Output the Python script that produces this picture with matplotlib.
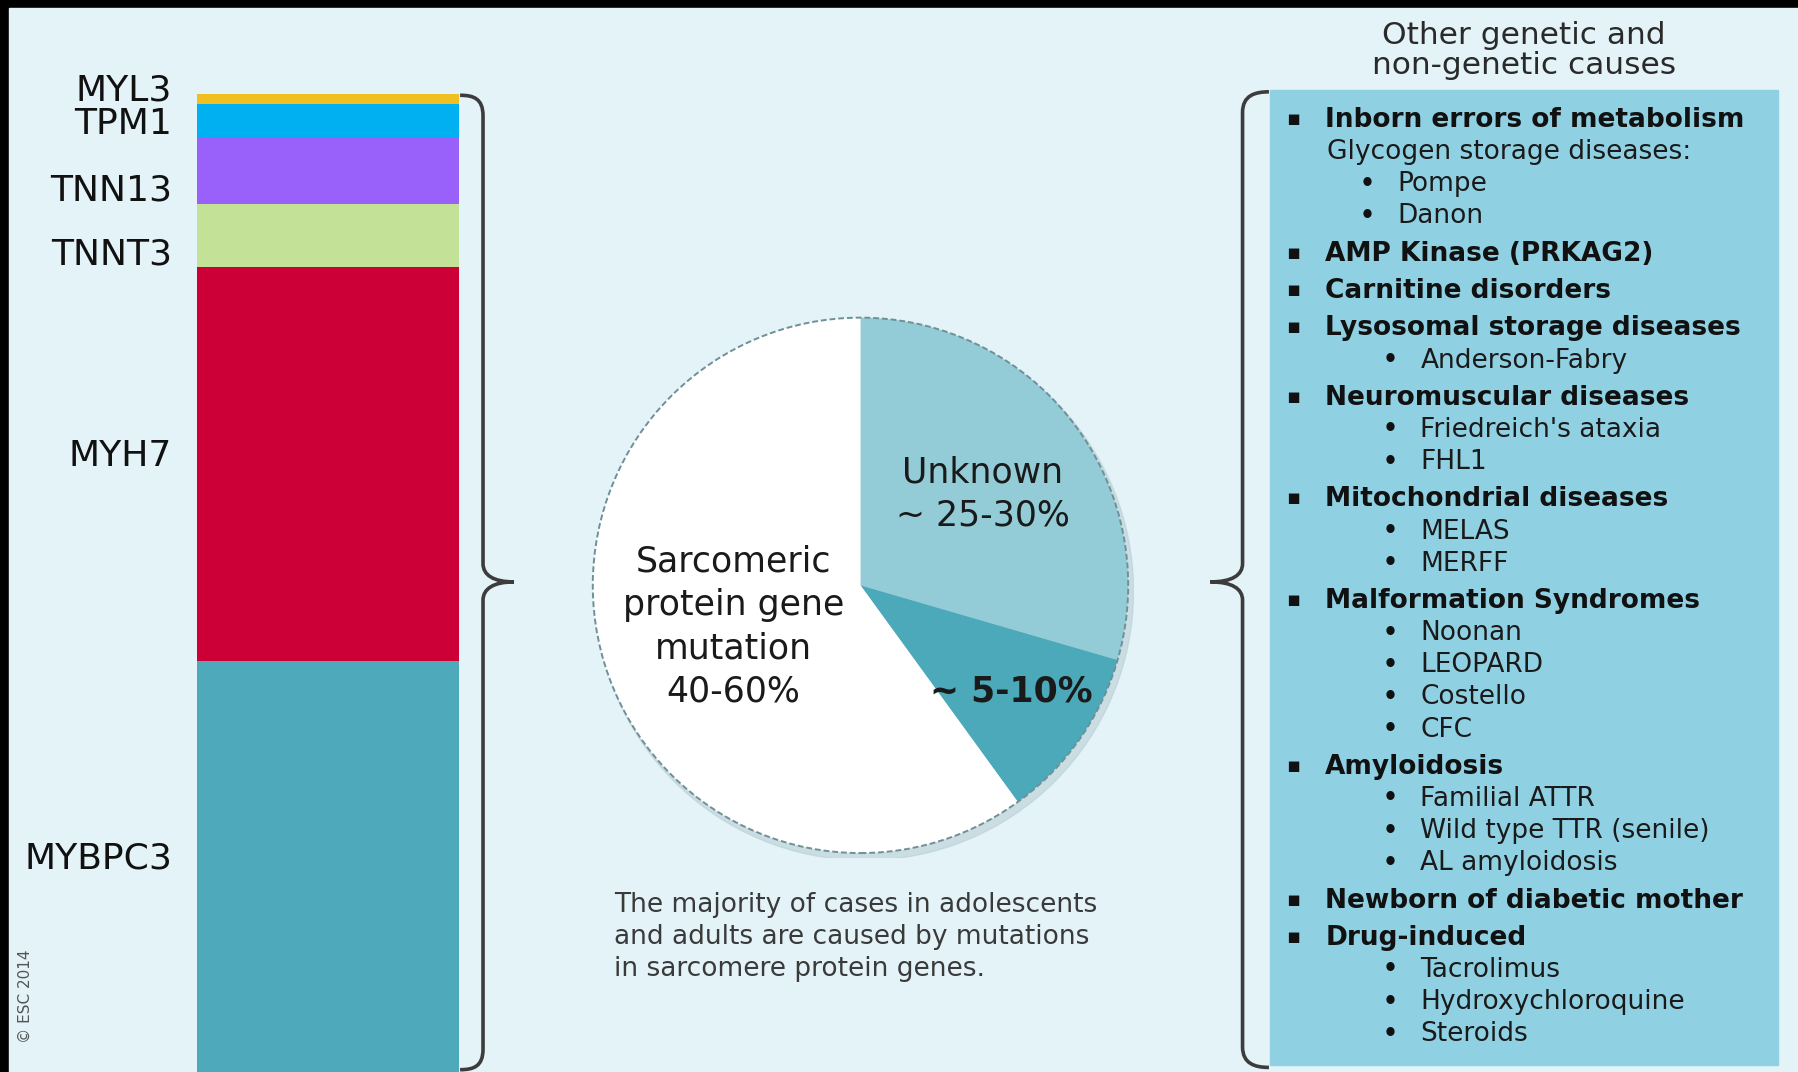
import numpy as np
import matplotlib.pyplot as plt
from matplotlib.patches import Rectangle, Circle, PathPatch
from matplotlib.path import Path
import matplotlib.transforms as mtransforms

# stacked bar: sarcomere genes, bottom to top (share of sarcomeric cases, %)
genes = ["MYBPC3", "MYH7", "TNNT3", "TNN13", "TPM1", "MYL3"]
gene_share = [42.0, 40.3, 6.5, 6.8, 3.4, 1.0]
gene_colors = ["#4eaaba", "#cc0036", "#c3e197", "#9a60fa", "#00b0f0", "#f0c020"]

# pie: causes of HCM (%)
pie_labels = ["Unknown\n~ 25-30%", "~ 5-10%", "Sarcomeric\nprotein gene\nmutation\n40-60%"]
pie_values = [29.5, 10.5, 60.0]
pie_colors = ["#93ccd7", "#4ba9ba", "#ffffff"]

caption = ("The majority of cases in adolescents\n"
           "and adults are caused by mutations\n"
           "in sarcomere protein genes.")

right_title = "Other genetic and\nnon-genetic causes"
causes = ["Inborn errors of metabolism", "AMP Kinase (PRKAG2)", "Carnitine disorders",
          "Lysosomal storage diseases", "Neuromuscular diseases", "Mitochondrial diseases",
          "Malformation Syndromes", "Amyloidosis", "Newborn of diabetic mother",
          "Drug-induced"]
cause_notes = {"Inborn errors of metabolism": "Glycogen storage diseases:"}
cause_examples = [["Pompe", "Danon"], [], [], ["Anderson-Fabry"],
                  ["Friedreich's ataxia", "FHL1"], ["MELAS", "MERFF"],
                  ["Noonan", "LEOPARD", "Costello", "CFC"],
                  ["Familial ATTR", "Wild type TTR (senile)", "AL amyloidosis"],
                  [], ["Tacrolimus", "Hydroxychloroquine", "Steroids"]]

W, H = 1568, 934  # layout canvas units

fig = plt.figure(figsize=(17.99, 10.72), dpi=100)
fig.patch.set_facecolor("black")

bg = fig.add_axes([0, 0, 1, 1])
bg.set_xlim(0, W)
bg.set_ylim(H, 0)
bg.axis("off")
bg.add_patch(Rectangle((8, 7), W - 8, H - 7, color="#e3f3f8", zorder=0))

# ---- stacked bar ----
bar_top = 82
ax = fig.add_axes([172 / W, 0, 228 / W, (H - bar_top) / H])
bottoms = np.concatenate([[0], np.cumsum(gene_share)[:-1]])
ax.bar(0, gene_share, bottom=bottoms, width=1.0, color=gene_colors, linewidth=0)
ax.set_xlim(-0.5, 0.5)
ax.set_ylim(0, sum(gene_share))
ax.axis("off")
trans = mtransforms.blended_transform_factory(ax.transAxes, ax.transData)
for g, v, b in zip(genes, gene_share, bottoms):
    if v < 10:
        ax.text(-0.097, b + 0.3, g, ha="right", va="baseline", fontsize=26,
                color="#111111", transform=trans, clip_on=False)
    else:
        ax.text(-0.097, b + v / 2 + 0.8, g, ha="right", va="center", fontsize=26,
                color="#111111", transform=trans, clip_on=False)

# ---- braces ----
def brace(x_in, x_mid, x_tip, y_top, y_mid, y_bot):
    s = 1 if x_tip > x_in else -1
    verts = [(x_in, y_top), (x_in + s * 12, y_top), (x_mid, y_top + 3), (x_mid, y_top + 18),
             (x_mid, y_mid - 16),
             (x_mid, y_mid - 6), (x_mid + s * 9, y_mid), (x_tip, y_mid),
             (x_mid + s * 9, y_mid), (x_mid, y_mid + 6), (x_mid, y_mid + 16),
             (x_mid, y_bot - 18),
             (x_mid, y_bot - 3), (x_in + s * 12, y_bot), (x_in, y_bot)]
    codes = [Path.MOVETO, Path.CURVE4, Path.CURVE4, Path.CURVE4, Path.LINETO,
             Path.CURVE4, Path.CURVE4, Path.CURVE4, Path.CURVE4, Path.CURVE4, Path.CURVE4,
             Path.LINETO, Path.CURVE4, Path.CURVE4, Path.CURVE4]
    bg.add_patch(PathPatch(Path(verts, codes), fill=False, ec="#3c3c3c", lw=2.6, zorder=3))

brace(401, 421, 448, 83, 507, 932)
brace(1106, 1083, 1055, 80, 507, 930)

# ---- pie ----
cx, cy, r = 750, 510, 238
pax = fig.add_axes([(cx - r) / W, 1 - (cy + r) / H, 2 * r / W, 2 * r / H])
pax.add_patch(Circle((0.015, -0.022), 1.005, color="#b7ccd2", alpha=0.55, zorder=0))
wedges, _ = pax.pie(pie_values, colors=pie_colors, startangle=90, counterclock=False,
                    wedgeprops=dict(linewidth=0))
pax.add_patch(Circle((0, 0), 1.0, fill=False, ec="#6f9096", lw=1.4, ls=(0, (3, 1.5)), zorder=5))
pax.set_xlim(-1.02, 1.02)
pax.set_ylim(-1.02, 1.02)
pax.set_aspect("equal", adjustable="box")
pax.axis("off")
label_r = [0.57, 0.69, 0.5]
label_w = ["normal", "bold", "normal"]
for w, lab, lr, fw in zip(wedges, pie_labels, label_r, label_w):
    ang = np.deg2rad((w.theta1 + w.theta2) / 2)
    pax.text(lr * np.cos(ang), lr * np.sin(ang), lab, ha="center", va="center",
             fontsize=25, fontweight=fw, color="#1a1a1a", linespacing=1.34, zorder=6)

bg.text(535, 777, caption, ha="left", va="top", fontsize=19, color="#3a3a3a",
        linespacing=1.3)

# ---- right box ----
bg.text(1328, 44, right_title, ha="center", va="center", fontsize=22.5, color="#2a2a2a",
        linespacing=1.05)
bg.add_patch(Rectangle((1107, 78), 443, 850, color="#8fd1e3", zorder=1))

y = 102
for i, (c, ex) in enumerate(zip(causes, cause_examples)):
    if i > 0:
        y += 32.5
    bg.text(1127, y, "\u25aa", ha="center", va="center_baseline", fontsize=15,
            color="#111111", zorder=4)
    bg.text(1155, y, c, ha="left", va="center_baseline", fontsize=19,
            fontweight="bold", color="#111111", zorder=4)
    sub_x = 1212
    if c in cause_notes:
        y += 28
        bg.text(1157, y, cause_notes[c], ha="left", va="center_baseline", fontsize=19,
                color="#1a1a1a", zorder=4)
        sub_x = 1192
    for e in ex:
        y += 28
        bg.text(sub_x, y, "\u2022", ha="center", va="center_baseline", fontsize=17,
                fontweight="bold", color="#111111", zorder=4)
        bg.text(sub_x + 26, y, e, ha="left", va="center_baseline", fontsize=19,
                color="#1a1a1a", zorder=4)

bg.text(22, 868, "\u00a9 ESC 2014", rotation=90, ha="center", va="center", fontsize=11,
        color="#555555")

fig.savefig("out.png", dpi=100, facecolor=fig.get_facecolor())
